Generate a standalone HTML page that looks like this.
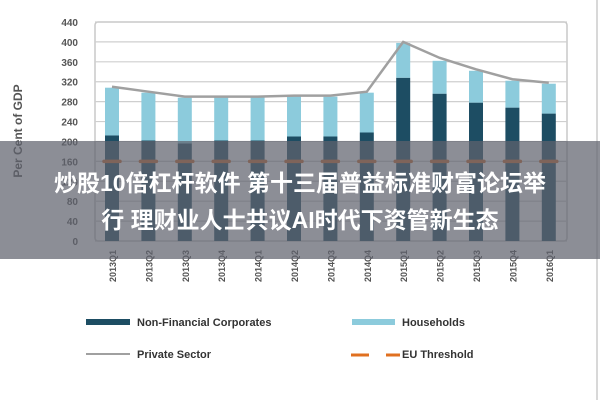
<!DOCTYPE html>
<html><head><meta charset="utf-8"><style>
html,body{margin:0;padding:0;background:#fff;}
#wrap{position:relative;width:600px;height:400px;overflow:hidden;font-family:"Liberation Sans","Noto Sans CJK SC",sans-serif;}
#banner{position:absolute;left:0;top:141px;width:600px;height:118px;background:rgba(95,98,110,0.72);color:#fff;font-weight:bold;font-size:23px;text-align:center;line-height:37px;padding-top:24px;box-sizing:border-box;font-family:"Liberation Sans","Noto Sans CJK SC",sans-serif;}
</style></head><body>
<div id="wrap">
<svg id="chart" width="600" height="400"></svg>
<div id="banner">炒股10倍杠杆软件 第十三届普益标准财富论坛举<br>行 理财业人士共议AI时代下资管新生态</div>
</div>
<script>
const categories=["2013Q1","2013Q2","2013Q3","2013Q4","2014Q1","2014Q2","2014Q3","2014Q4","2015Q1","2015Q2","2015Q3","2015Q4","2016Q1"];
const corporates=[212,202,196,202,202,210,210,218,328,296,278,268,256];
const households=[96,96,92,88,88,82,80,80,70,66,64,54,60];
const privateSector=[310,300,290,290,290,292,292,300,400,368,345,325,318];
const euThreshold=[160,160,160,160,160,160,160,160,160,160,160,160,160];
const yTicks=[0,40,80,120,160,200,240,280,320,360,400,440];
const NS="http://www.w3.org/2000/svg";
const svg=document.getElementById('chart');
const y0=241,yTop=22,x0=95,x1=567;
function yS(v){return y0-(v/440)*(y0-yTop);}
function xS(i){return 112+i*36.4;}
function mk(t,a,p){const e=document.createElementNS(NS,t);for(const k in a)e.setAttribute(k,a[k]);(p||svg).appendChild(e);return e;}
// frame
let fr=mk('rect',{x:x0,y:yTop,width:x1-x0,height:y0-yTop,fill:'#fff',stroke:'#c8c8c8','stroke-width':1.5,rx:3});


yTicks.forEach(v=>{
 let g=mk('line',{x1:x0,x2:x1,y1:yS(v),y2:yS(v),stroke:'#cfcfcf','stroke-width':1.2});
 
 
 let t=mk('text',{x:78,y:yS(v)+4,'text-anchor':'end','font-size':10,fill:'#555','font-weight':'bold'});
 t.textContent=v;
 
 
});
let yt=mk('text',{x:0,y:0,transform:'translate(22,131) rotate(-90)','text-anchor':'middle','font-size':12,fill:'#555','font-weight':'bold'});
yt.textContent='Per Cent of GDP';


categories.forEach((c,i)=>{
 const x=xS(i),w=14;
 let b1=mk('rect',{x:x-w/2,y:yS(corporates[i]),width:w,height:y0-yS(corporates[i]),fill:'#1d4d63'});
 
 
 const tot=corporates[i]+households[i];
 let b2=mk('rect',{x:x-w/2,y:yS(tot),width:w,height:yS(corporates[i])-yS(tot),fill:'#8ccbdc'});
 
 
 let d=mk('line',{x1:x-8,x2:x+8,y1:yS(euThreshold[i]),y2:yS(euThreshold[i]),stroke:'#d06a2a','stroke-width':3.5,'stroke-linecap':'round'});
 
 
 let t=mk('text',{x:0,y:0,transform:`translate(${x+4},250) rotate(-90)`,'text-anchor':'end','font-size':9,fill:'#555','font-weight':'bold'});
 t.textContent=c;
 
 
});
let pl=mk('polyline',{points:privateSector.map((v,i)=>xS(i)+','+yS(v)).join(' '),fill:'none',stroke:'#a0a0a0','stroke-width':2.5});


// legend
function leg(name,x,y,draw,label){
 const g=mk('g',{});
 
 
 draw(g);
 const t=mk('text',{x:x,y:y+4,'font-size':11,fill:'#333','font-weight':'bold'},g);t.textContent=label;
}
leg('legend-corporates',137,322,g=>mk('rect',{x:86,y:319,width:44,height:6,fill:'#1d4d63'},g),'Non-Financial Corporates');
leg('legend-households',402,322,g=>mk('rect',{x:352,y:319,width:43,height:6,fill:'#8ccbdc'},g),'Households');
leg('legend-private-sector',137,354,g=>mk('line',{x1:86,x2:130,y1:354,y2:354,stroke:'#a0a0a0','stroke-width':2},g),'Private Sector');
leg('legend-eu-threshold',402,354,g=>{mk('line',{x1:351,x2:369,y1:355,y2:355,stroke:'#e07020','stroke-width':3},g);mk('line',{x1:386,x2:400,y1:355,y2:355,stroke:'#e07020','stroke-width':3},g);},'EU Threshold');
let br=mk('line',{x1:597,x2:597,y1:0,y2:400,stroke:'#ccc','stroke-width':1.5});


</script>
</body></html>
